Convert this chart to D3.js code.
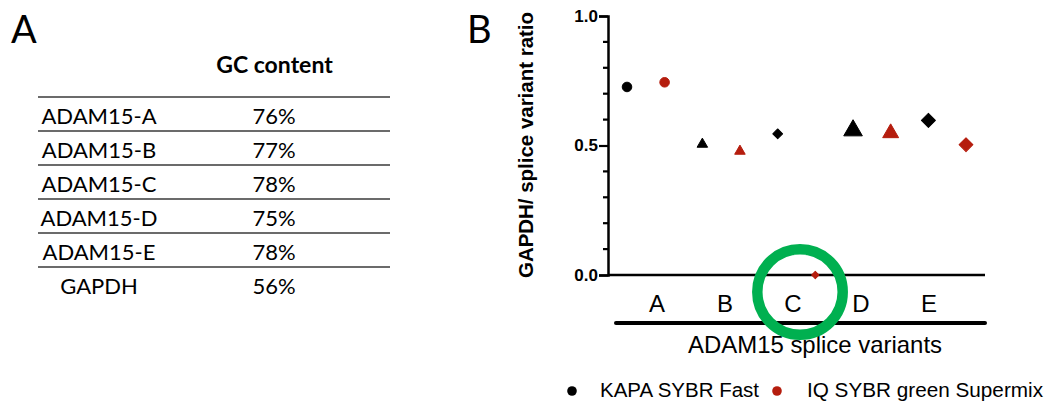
<!DOCTYPE html>
<html>
<head>
<meta charset="utf-8">
<script src="https://cdn.jsdelivr.net/npm/d3@7"></script>
<style>
  html, body { margin: 0; padding: 0; background: #fff; }
  svg { display: block; }
</style>
</head>
<body>
<svg id="chart" width="1046" height="402"></svg>
<script>
// ---------- Data ----------
const tableGenes = ["ADAM15-A", "ADAM15-B", "ADAM15-C", "ADAM15-D", "ADAM15-E", "GAPDH"];
const tableGC = ["76%", "77%", "78%", "75%", "78%", "56%"];
const tableHeader = "GC content";

const categories = ["A", "B", "C", "D", "E"];
const kapaValues = [0.726, 0.505, 0.545, 0.558, 0.597];
const iqValues = [0.744, 0.478, 0.0, 0.548, 0.503];
const seriesNames = ["KAPA SYBR Fast", "IQ SYBR green Supermix"];
const yTicks = [0, 0.5, 1.0];
const yMinorTicks = [0.1, 0.2, 0.3, 0.4, 0.6, 0.7, 0.8, 0.9];

// ---------- Styles ----------
const BLACK = "#000000";
const RED = "#b51d0e";
const GREEN = "#00b050";
const symbolTypes = ["circle", "triangle", "diamond", "triangle", "diamond"];
const kapaSizes = [72, 48, 48, 150, 98];
const iqSizes = [72, 48, 28, 110, 95];

function symbolPath(kind, size) {
  if (kind === "circle") return d3.symbol().type(d3.symbolCircle).size(size)();
  if (kind === "triangle") return d3.symbol().type(d3.symbolTriangle).size(size)();
  return d3.symbol().type(d3.symbolSquare).size(size)();
}
function symbolRot(kind) { return kind === "diamond" ? " rotate(45)" : ""; }

const svg = d3.select("#chart");
const tableFont = "Lato, 'Open Sans', sans-serif";
const chartFont = "'Liberation Sans', Arial, sans-serif";

// ---------- Panel A: table ----------
svg.append("text").attr("x", 11).attr("y", 43)
  .attr("font-family", tableFont).attr("font-size", 38).text("A");

const rowScale = d3.scaleBand().domain(d3.range(tableGenes.length)).range([97, 301]);
const colName = 99, colGC = 274;

svg.append("text").attr("x", colGC + 0.5).attr("y", 73).attr("text-anchor", "middle")
  .attr("font-family", tableFont).attr("font-weight", "bold").attr("font-size", 23)
  .text(tableHeader);

const rows = svg.append("g").selectAll("g").data(tableGenes).join("g")
  .attr("transform", (d, i) => `translate(0,${rowScale(i)})`);

rows.append("line")
  .attr("x1", 38).attr("x2", 390).attr("y1", 0).attr("y2", 0)
  .attr("stroke", "#3a3a3a").attr("stroke-width", 1.4);

rows.append("text").attr("x", colName).attr("y", 27).attr("text-anchor", "middle")
  .attr("font-family", tableFont).attr("font-size", 22).text(d => d);

rows.append("text").attr("x", colGC).attr("y", 27).attr("text-anchor", "middle")
  .attr("font-family", tableFont).attr("font-size", 22).text((d, i) => tableGC[i]);

// ---------- Panel B: chart ----------
svg.append("text").attr("x", 467).attr("y", 43)
  .attr("font-family", tableFont).attr("font-size", 38).text("B");

const axisX = 608;
const y = d3.scaleLinear().domain([0, 1]).range([275, 16]);
const xCat = d3.scalePoint().domain(categories).range([645.8, 947.2]);
const xLabel = d3.scalePoint().domain(categories).range([657, 929]);
const offset = 18.8;

// y axis
const yAxis = d3.axisLeft(y).tickValues(yTicks).tickFormat(d3.format(".1f"))
  .tickSize(9).tickPadding(1);
const gy = svg.append("g").attr("transform", `translate(${axisX},0)`).call(yAxis);
gy.select(".domain").attr("stroke", BLACK).attr("stroke-width", 2.5);
gy.selectAll(".tick line").attr("stroke", BLACK).attr("stroke-width", 2.2);
gy.selectAll(".tick text").attr("font-family", chartFont).attr("font-weight", "bold")
  .attr("font-size", 17).attr("fill", BLACK);
gy.selectAll(".minor").data(yMinorTicks).join("line").attr("class", "minor")
  .attr("x1", -5).attr("x2", 0).attr("y1", d => y(d)).attr("y2", d => y(d))
  .attr("stroke", BLACK).attr("stroke-width", 2.2);

// x axis line
svg.append("line").attr("x1", axisX).attr("x2", 985).attr("y1", y(0)).attr("y2", y(0))
  .attr("stroke", BLACK).attr("stroke-width", 2.5);

// y title
svg.append("text").attr("transform", `translate(533,145) rotate(-90)`)
  .attr("text-anchor", "middle").attr("font-family", chartFont)
  .attr("font-weight", "bold").attr("font-size", 20)
  .attr("textLength", 266).attr("lengthAdjust", "spacingAndGlyphs")
  .text("GAPDH/ splice variant ratio");

// category labels
svg.append("g").selectAll("text").data(categories).join("text")
  .attr("x", d => xLabel(d)).attr("y", 312).attr("text-anchor", "middle")
  .attr("font-family", chartFont).attr("font-size", 24).text(d => d);

// group bar line
svg.append("line").attr("x1", 616).attr("x2", 985).attr("y1", 323).attr("y2", 323)
  .attr("stroke", BLACK).attr("stroke-width", 4).attr("stroke-linecap", "round");

svg.append("text").attr("x", 815).attr("y", 353).attr("text-anchor", "middle")
  .attr("font-family", chartFont).attr("font-size", 24)
  .attr("textLength", 254).attr("lengthAdjust", "spacingAndGlyphs")
  .text("ADAM15 splice variants");

// points
const pts = svg.append("g");
pts.selectAll(".kapa").data(kapaValues).join("path").attr("class", "kapa")
  .attr("d", (d, i) => symbolPath(symbolTypes[i], kapaSizes[i]))
  .attr("transform", (d, i) => `translate(${xCat(categories[i]) - offset},${y(d)})${symbolRot(symbolTypes[i])}`)
  .attr("fill", BLACK).attr("stroke", BLACK).attr("stroke-width", 1).attr("stroke-linejoin", "round");
pts.selectAll(".iq").data(iqValues).join("path").attr("class", "iq")
  .attr("d", (d, i) => symbolPath(symbolTypes[i], iqSizes[i]))
  .attr("transform", (d, i) => `translate(${xCat(categories[i]) + offset},${y(d)})${symbolRot(symbolTypes[i])}`)
  .attr("fill", RED).attr("stroke", RED).attr("stroke-width", 1).attr("stroke-linejoin", "round");

// green highlight circle
svg.append("circle").attr("cx", 800).attr("cy", 292).attr("r", 42.7)
  .attr("fill", "none").attr("stroke", GREEN).attr("stroke-width", 10.5);

// legend
const legend = svg.append("g");
const legendX = [572, 777];
const legendColors = [BLACK, RED];
const legendTextX = [600, 807];
const legendTextLen = [159, 236];
legend.selectAll("circle").data(seriesNames).join("circle")
  .attr("cx", (d, i) => legendX[i]).attr("cy", 391).attr("r", 4.8)
  .attr("fill", (d, i) => legendColors[i]);
legend.selectAll("text").data(seriesNames).join("text")
  .attr("x", (d, i) => legendTextX[i]).attr("y", 397)
  .attr("font-family", chartFont).attr("font-size", 20)
  .attr("textLength", (d, i) => legendTextLen[i]).attr("lengthAdjust", "spacingAndGlyphs")
  .text(d => d);
</script>
</body>
</html>
